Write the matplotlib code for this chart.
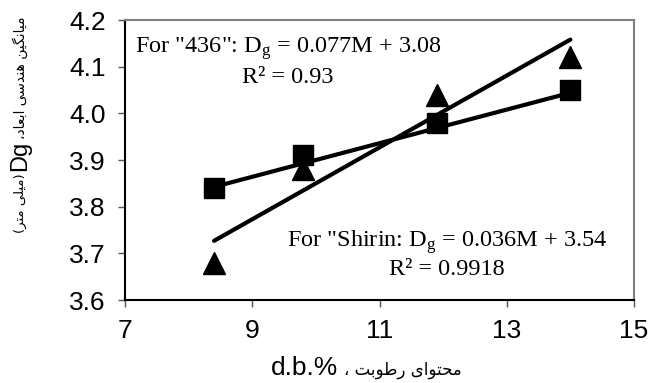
import numpy as np
import matplotlib
matplotlib.use("Agg")
import matplotlib.pyplot as plt

# moisture content (d.b. %) and geometric mean diameter (mm)
moisture = [8.4, 9.8, 11.9, 14.0]
dg_436 = [3.68, 3.88, 4.04, 4.12]
dg_shirin = [3.84, 3.91, 3.98, 4.05]

# trend line coefficients as printed on the chart
fit_436 = (0.077, 3.08)
fit_shirin = (0.036, 3.54)
r2_436 = "0.93"
r2_shirin = "0.9918"

x_ticks = [7, 9, 11, 13, 15]
y_ticks = [3.6, 3.7, 3.8, 3.9, 4.0, 4.1, 4.2]

# --- small persian shaper (matplotlib does no arabic shaping) ---
# char: (isolated, final, initial, medial); two entries -> right joining only
FORMS = {
    "ا": (0xFE8D, 0xFE8E), "د": (0xFEA9, 0xFEAA), "ر": (0xFEAD, 0xFEAE),
    "و": (0xFEED, 0xFEEE),
    "ب": (0xFE8F, 0xFE90, 0xFE91, 0xFE92), "ت": (0xFE95, 0xFE96, 0xFE97, 0xFE98),
    "ح": (0xFEA1, 0xFEA2, 0xFEA3, 0xFEA4), "س": (0xFEB1, 0xFEB2, 0xFEB3, 0xFEB4),
    "ط": (0xFEC1, 0xFEC2, 0xFEC3, 0xFEC4), "ع": (0xFEC9, 0xFECA, 0xFECB, 0xFECC),
    "ل": (0xFEDD, 0xFEDE, 0xFEDF, 0xFEE0), "م": (0xFEE1, 0xFEE2, 0xFEE3, 0xFEE4),
    "ن": (0xFEE5, 0xFEE6, 0xFEE7, 0xFEE8), "ه": (0xFEE9, 0xFEEA, 0xFEEB, 0xFEEC),
    "ی": (0xFBFC, 0xFBFD, 0xFBFE, 0xFBFF), "گ": (0xFB92, 0xFB93, 0xFB94, 0xFB95),
}


def shape_word(word):
    out = []
    for i, c in enumerate(word):
        if c not in FORMS:
            out.append(c)
            continue
        f = FORMS[c]
        prev = word[i - 1] if i > 0 else None
        nxt = word[i + 1] if i < len(word) - 1 else None
        p = prev in FORMS and len(FORMS[prev]) == 4
        n = len(f) == 4 and nxt in FORMS
        if p and n:
            out.append(chr(f[3]))
        elif p:
            out.append(chr(f[1]))
        elif n:
            out.append(chr(f[2]))
        else:
            out.append(chr(f[0]))
    return "".join(out)[::-1]


def rtl(text):
    # words are reversed in order and each word is shaped + reversed
    return " ".join(shape_word(w) for w in text.split(" ")[::-1])


plt.rcParams["font.family"] = "Liberation Sans"
plt.rcParams["mathtext.fontset"] = "custom"
plt.rcParams["mathtext.rm"] = "Liberation Serif"
plt.rcParams["mathtext.it"] = "Liberation Serif"

W, H = 649, 383
fig = plt.figure(figsize=(W / 100, H / 100), dpi=100)
ax = fig.add_axes([125 / W, 1 - 300 / H, 509 / W, 280 / H])

xs = np.array([moisture[0], moisture[-1]])
ax.plot(xs, fit_436[0] * xs + fit_436[1], color="black", lw=3, solid_capstyle="round", zorder=2)
ax.plot(xs, fit_shirin[0] * xs + fit_shirin[1], color="black", lw=3, solid_capstyle="round", zorder=2)
ax.plot(moisture, dg_436, ls="none", marker="^", ms=16, color="black", zorder=3)
ax.plot(moisture, dg_shirin, ls="none", marker="s", ms=15, color="black", zorder=4)

ax.set_xlim(7, 15)
ax.set_ylim(3.6, 4.2)
ax.set_xticks(x_ticks)
ax.set_yticks(y_ticks)
ax.set_yticklabels(["%.1f" % v for v in y_ticks])
ax.tick_params(direction="out", length=5, width=1, color="#555555", labelsize=19, pad=9)

for s in ["left", "bottom"]:
    ax.spines[s].set_color("black")
    ax.spines[s].set_linewidth(1.5)
for s in ["top", "right"]:
    ax.spines[s].set_color("#808080")
    ax.spines[s].set_linewidth(1.5)

serif = dict(family="Liberation Serif", fontsize=17.5, va="baseline", ha="center",
             transform=ax.transAxes)
ax.text(0.320, 0.882, 'For "436": D$_\\mathrm{g}$ = 0.077M + 3.08', **serif)
ax.text(0.320, 0.775, "R² = " + r2_436, **serif)
ax.text(0.633, 0.189, 'For "Shirin: D$_\\mathrm{g}$ = 0.036M + 3.54', **serif)
ax.text(0.633, 0.089, "R² = " + r2_shirin, **serif)

# x label: latin part + persian part
fig.text(338 / W, 8 / H, "d.b.%", fontsize=19, ha="right", va="baseline")
fig.text(344 / W, 8 / H, "، " + rtl("محتوای رطوبت"), family="DejaVu Sans",
         fontsize=12, ha="left", va="baseline")

# y label: three rotated pieces stacked from the bottom up
renderer = fig.canvas.get_renderer()
pieces = [
    ("(" + rtl("میلی متر") + ")", "DejaVu Sans", 9.5),
    ("Dg", "Liberation Sans", 17),
    ("،" + rtl("میانگین هندسی ابعاد"), "DejaVu Sans", 10),
]
y0 = H - 233
for txt, fam, size in pieces:
    t = fig.text(20 / W, y0 / H, txt, family=fam, fontsize=size, rotation=90,
                 ha="center", va="bottom")
    bb = t.get_window_extent(renderer)
    y0 = bb.y1 + 2

fig.savefig("out.png", dpi=100)
